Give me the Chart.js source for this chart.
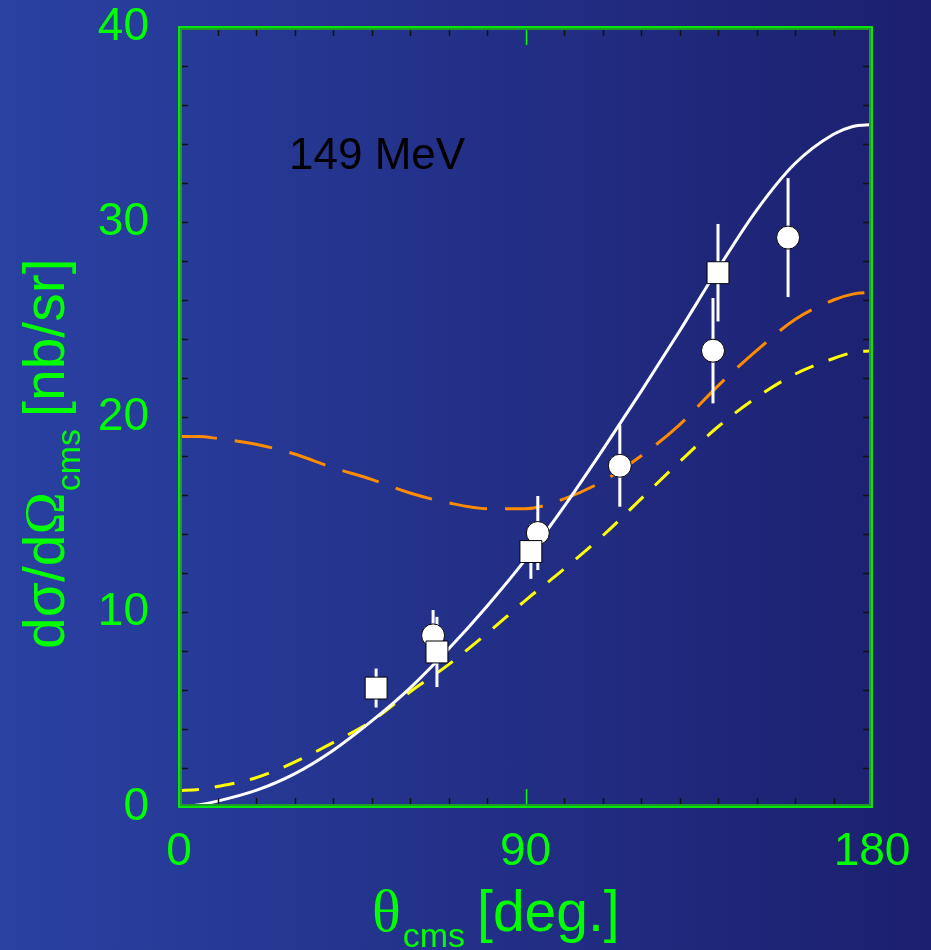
<!DOCTYPE html>
<html>
<head>
<meta charset="utf-8">
<script src="https://cdn.jsdelivr.net/npm/chart.js@4"></script>
<style>
  html, body { margin: 0; padding: 0; }
  body { width: 931px; height: 950px; background: linear-gradient(to right, #2a41a2, #1c1f6e); }
  #wrap { width: 931px; height: 950px; }
</style>
</head>
<body>
<div id="wrap"><canvas id="chart"></canvas></div>
<script>
// theory curves (angle in deg, cross section in nb/sr)
const curve_angles = [0, 5, 10, 20, 30, 40, 50, 60, 70, 80, 90, 100, 110, 120, 130, 140, 150, 160, 170, 175, 180];
const white_curve  = [0.0, 0.1, 0.3, 0.85, 1.7, 2.9, 4.4, 6.1, 8.1, 10.3, 12.7, 15.4, 18.3, 21.3, 24.4, 27.6, 30.6, 33.0, 34.5, 34.9, 35.0];
const orange_curve = [19.0, 19.0, 18.9, 18.6, 18.1, 17.4, 16.8, 16.1, 15.6, 15.3, 15.3, 15.8, 16.7, 18.0, 19.6, 21.6, 23.4, 25.0, 26.0, 26.3, 26.4];
const yellow_curve = [0.85, 0.9, 1.05, 1.5, 2.3, 3.3, 4.4, 5.9, 7.3, 8.9, 10.6, 12.2, 13.9, 15.8, 17.7, 19.5, 21.0, 22.2, 23.0, 23.3, 23.4];

// measured points
const circle_angles = [66.0, 93.2, 114.5, 138.7, 158.2];
const circle_values = [8.8, 14.05, 17.5, 23.4, 29.2];
const circle_errors = [1.3, 1.9, 2.1, 2.7, 3.05];

const square_angles = [51.2, 67.0, 91.4, 140.0];
const square_values = [6.1, 7.95, 13.1, 27.4];
const square_errors = [1.0, 1.8, 1.4, 2.5];

const x_tick_labels = [0, 90, 180];
const y_tick_labels = [0, 10, 20, 30, 40];

const GREEN = "#00ff00";
const SANS = "'Liberation Sans', Arial, sans-serif";
const SERIF = "'Liberation Serif', 'Times New Roman', serif";

const pts = (xs, ys) => xs.map((x, i) => ({ x: x, y: ys[i] }));

const framePlugin = {
  id: "frame",
  beforeDatasetDraw(chart, args) {
    // error bars go on top of the curves but under the markers
    if (args.index !== 1) return;
    const { ctx, scales: { x, y } } = chart;
    ctx.save();
    ctx.strokeStyle = "#ffffff";
    ctx.lineWidth = 3;
    const bars = (xs, vs, es) => xs.forEach((a, i) => {
      const px = x.getPixelForValue(a);
      ctx.beginPath();
      ctx.moveTo(px, y.getPixelForValue(vs[i] + es[i]));
      ctx.lineTo(px, y.getPixelForValue(vs[i] - es[i]));
      ctx.stroke();
    });
    bars(circle_angles, circle_values, circle_errors);
    bars(square_angles, square_values, square_errors);
    ctx.restore();
  },
  afterDraw(chart) {
    const { ctx, chartArea: a, scales: { x, y } } = chart;
    ctx.save();
    // minor ticks, pointing inward
    ctx.strokeStyle = "#111111";
    ctx.lineWidth = 1.5;
    for (let v = 10; v < 180; v += 10) {
      if (v === 90) continue;
      const px = Math.round(x.getPixelForValue(v)) + 0.5;
      ctx.beginPath();
      ctx.moveTo(px, a.bottom); ctx.lineTo(px, a.bottom - 9);
      ctx.moveTo(px, a.top); ctx.lineTo(px, a.top + 9);
      ctx.stroke();
    }
    for (let v = 2; v < 40; v += 2) {
      const py = Math.round(y.getPixelForValue(v)) + 0.5;
      ctx.beginPath();
      ctx.moveTo(a.left, py); ctx.lineTo(a.left + 9, py);
      ctx.moveTo(a.right, py); ctx.lineTo(a.right - 9, py);
      ctx.stroke();
    }
    // green tick at 90
    ctx.strokeStyle = GREEN;
    ctx.lineWidth = 1.5;
    const p90 = Math.round(x.getPixelForValue(90)) + 0.5;
    ctx.beginPath();
    ctx.moveTo(p90, a.bottom); ctx.lineTo(p90, a.bottom - 18);
    ctx.moveTo(p90, a.top); ctx.lineTo(p90, a.top + 18);
    ctx.stroke();
    // frame
    ctx.strokeStyle = "#1f9a2a";
    ctx.lineWidth = 4;
    ctx.strokeRect(a.left + 1, a.top + 1, a.right - a.left - 2, a.bottom - a.top - 2);
    ctx.strokeStyle = GREEN;
    ctx.lineWidth = 1.5;
    ctx.strokeRect(a.left, a.top, a.right - a.left, a.bottom - a.top);

    // energy label
    ctx.fillStyle = "#000000";
    ctx.font = "44px " + SANS;
    ctx.textBaseline = "alphabetic";
    ctx.textAlign = "left";
    ctx.fillText("149 MeV", 289, 169);

    // x title
    ctx.fillStyle = GREEN;
    let cx = 372;
    ctx.font = "60px " + SERIF;
    ctx.fillText("\u03b8", cx, 931);
    cx += ctx.measureText("\u03b8").width + 2;
    ctx.font = "34px " + SANS;
    ctx.fillText("cms", cx, 947);
    cx += ctx.measureText("cms").width + 12;
    ctx.font = "57px " + SANS;
    ctx.fillText("[deg.]", cx, 931);

    // y title (rotated)
    ctx.translate(64, 649);
    ctx.rotate(-Math.PI / 2);
    let ty = 0;
    ctx.font = "57px " + SANS;
    ctx.fillText("d\u03c3/d", ty, 0);
    ty += ctx.measureText("d\u03c3/d").width;
    ctx.font = "57px " + SERIF;
    ctx.fillText("\u03a9", ty, 0);
    ty += ctx.measureText("\u03a9").width + 1;
    ctx.font = "34px " + SANS;
    ctx.fillText("cms", ty, 16);
    ty += ctx.measureText("cms").width + 12;
    ctx.font = "57px " + SANS;
    ctx.fillText("[nb/sr]", ty, 0);
    ctx.restore();
  }
};

new Chart(document.getElementById("chart"), {
  type: "scatter",
  data: {
    datasets: [
      {
        label: "squares",
        data: pts(square_angles, square_values),
        pointStyle: "rect",
        pointRadius: 15.5,
        pointHoverRadius: 15.5,
        backgroundColor: "#ffffff",
        borderColor: "#000000",
        borderWidth: 1,
        order: 0
      },
      {
        label: "circles",
        data: pts(circle_angles, circle_values),
        pointStyle: "circle",
        pointRadius: 11.5,
        pointHoverRadius: 11.5,
        backgroundColor: "#ffffff",
        borderColor: "#000000",
        borderWidth: 1,
        order: 1
      },
      {
        label: "white",
        type: "line",
        data: pts(curve_angles, white_curve),
        borderColor: "#ffffff",
        borderWidth: 3,
        pointRadius: 0,
        cubicInterpolationMode: "monotone",
        order: 2
      },
      {
        label: "orange",
        type: "line",
        data: pts(curve_angles, orange_curve),
        borderColor: "#ff8c00",
        borderWidth: 3,
        borderDash: [38, 18],
        pointRadius: 0,
        cubicInterpolationMode: "monotone",
        order: 3
      },
      {
        label: "yellow",
        type: "line",
        data: pts(curve_angles, yellow_curve),
        borderColor: "#ffff00",
        borderWidth: 3,
        borderDash: [20, 16],
        pointRadius: 0,
        cubicInterpolationMode: "monotone",
        order: 4
      }
    ]
  },
  options: {
    responsive: true,
    maintainAspectRatio: false,
    animation: false,
    layout: { padding: { left: 0, top: 27, right: 59, bottom: 0 } },
    plugins: { legend: { display: false }, tooltip: { enabled: false } },
    scales: {
      x: {
        type: "linear",
        min: 0, max: 180,
        afterBuildTicks: s => { s.ticks = x_tick_labels.map(v => ({ value: v })); },
        afterFit: s => { s.height = 143; s.paddingLeft = 0; s.paddingRight = 0; },
        grid: { display: false, drawTicks: false },
        border: { display: false },
        ticks: { color: GREEN, font: { family: SANS, size: 46 }, padding: 18, maxRotation: 0 }
      },
      y: {
        type: "linear",
        min: 0, max: 40,
        afterBuildTicks: s => { s.ticks = y_tick_labels.map(v => ({ value: v })); },
        afterFit: s => { s.width = 179; s.paddingTop = 0; s.paddingBottom = 0; },
        grid: { display: false, drawTicks: false },
        border: { display: false },
        ticks: { color: GREEN, font: { family: SANS, size: 46 }, padding: 30 }
      }
    }
  },
  plugins: [framePlugin]
});
</script>
</body>
</html>
